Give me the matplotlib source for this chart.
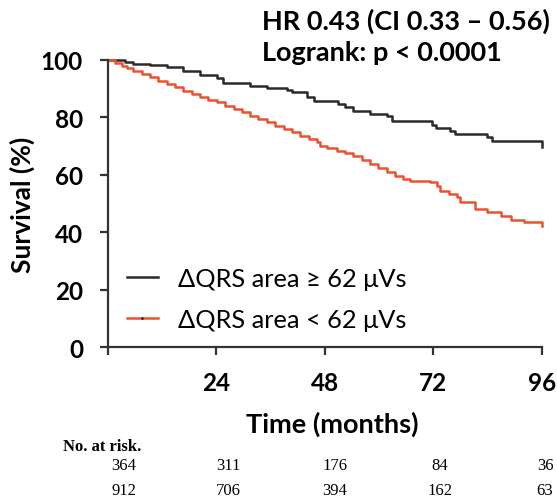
import matplotlib
matplotlib.use('Agg')
import matplotlib.pyplot as plt
from matplotlib.lines import Line2D

# Kaplan-Meier step points (months, survival %)
t_high = [0, 3.8, 5.6, 9.3, 13.0, 16.7, 20.4, 24.1, 25.5, 31.5, 35.2, 39.6, 40.7,
          44.0, 45.5, 51.0, 52.5, 54.3, 58.0, 61.7, 62.8, 71.7, 72.5, 75.8, 76.9,
          83.9, 85.0, 96.0]
s_high = [100, 99.4, 98.6, 98.3, 97.4, 96.3, 94.8, 93.6, 91.9, 90.8, 90.1, 89.6, 88.7,
          87.0, 85.8, 84.5, 83.5, 82.3, 81.2, 80.6, 78.9, 77.3, 76.3, 75.3, 74.2,
          73.3, 71.7, 69.6]

t_low = [0, 1.5, 3.0, 4.3, 5.6, 7.5, 9.3, 11.0, 13.0, 14.8, 16.7, 18.5, 20.4, 22.2,
         24.1, 26.0, 27.8, 29.6, 31.5, 33.3, 35.2, 37.0, 38.9, 40.8, 42.6, 44.5,
         46.3, 47.0, 48.5, 50.7, 52.5, 54.3, 56.2, 58.0, 59.8, 61.7, 63.5, 65.4,
         66.9, 71.3, 72.8, 73.5, 75.5, 77.2, 78.0, 81.3, 83.9, 86.9, 89.1, 92.0, 96.0]
s_low = [100, 99.0, 98.0, 97.2, 96.3, 95.2, 94.0, 92.8, 91.6, 90.5, 89.3, 88.2, 87.0, 86.2,
         85.3, 84.1, 82.9, 81.8, 80.6, 79.4, 78.3, 77.1, 76.0, 74.8, 73.6, 72.4,
         71.3, 70.2, 69.3, 68.4, 67.6, 66.7, 65.2, 63.8, 62.4, 60.9, 59.7, 58.5,
         57.9, 57.4, 56.2, 54.5, 53.4, 52.2, 50.6, 48.1, 46.9, 45.7, 44.4, 43.7, 42.3]

x_ticks = [0, 24, 48, 72, 96]
x_ticklabels = ['', '24', '48', '72', '96']
y_ticks = [0, 20, 40, 60, 80, 100]

risk_high = [364, 311, 176, 84, 36]
risk_low = [912, 706, 394, 162, 63]

label_high = 'ΔQRS area ≥ 62 μVs'
label_low = 'ΔQRS area < 62 μVs'

BLACK = '#2a2a2a'
RED = '#ea5230'

fig = plt.figure(figsize=(5.57, 5.02), dpi=100)
W, H = 557.0, 502.0
ax = fig.add_axes([108 / W, 1 - 348 / H, (541.7 - 108) / W, (348 - 61) / H])

ax.plot(t_high, s_high, drawstyle='steps-post', color=BLACK, lw=1.8, clip_on=False)
ax.plot(t_low, s_low, drawstyle='steps-post', color=RED, lw=1.8, clip_on=False)

ax.set_xlim(0, 96)
ax.set_ylim(0, 100)
for side in ['top', 'right']:
    ax.spines[side].set_visible(False)
for side in ['left', 'bottom']:
    ax.spines[side].set_linewidth(1.6)
    ax.spines[side].set_color('#333333')

ax.set_xticks(x_ticks)
ax.set_xticklabels(x_ticklabels)
ax.set_yticks(y_ticks)
ax.tick_params(axis='both', direction='out', length=6, width=1.6, color='#333333')
ax.tick_params(axis='y', pad=12)
ax.tick_params(axis='x', pad=11)
for lab in ax.get_xticklabels() + ax.get_yticklabels():
    lab.set_fontfamily('Lato')
    lab.set_fontweight('bold')
    lab.set_fontsize(17.5)

ax.set_ylabel('Survival (%)', fontfamily='Lato', fontweight='bold', fontsize=19, labelpad=4)

handles = [Line2D([], [], color=BLACK, lw=1.8),
           Line2D([], [], color=RED, lw=1.8, marker='.', markersize=2,
                  markerfacecolor='#333333', markeredgecolor='#333333')]
ax.legend(handles, [label_high, label_low], loc='center left',
          bbox_to_anchor=(127 / W, 1 - 300 / H), bbox_transform=fig.transFigure,
          frameon=False, borderpad=0, borderaxespad=0, handlelength=1.2,
          handletextpad=0.8, labelspacing=0.7,
          prop={'family': 'Lato', 'size': 18.3})

fig.text(262 / W, 1 - 30 / H, 'HR 0.43 (CI 0.33 – 0.56)', fontfamily='Lato',
         fontweight='bold', fontsize=19.5, va='baseline', ha='left')
fig.text(262 / W, 1 - 61 / H, 'Logrank: p < 0.0001', fontfamily='Lato',
         fontweight='bold', fontsize=19.5, va='baseline', ha='left')

fig.text(332 / W, 1 - 433 / H, 'Time (months)', fontfamily='Lato', fontweight='bold',
         fontsize=19.5, va='baseline', ha='center')

# number at risk table
fig.text(63 / W, 1 - 447 / H, 'No. at risk.', fontfamily='Liberation Serif',
         fontweight='bold', fontsize=12, va='center', ha='left')
risk_x = [124, 228, 335, 440, 545]
for x, a, b in zip(risk_x, risk_high, risk_low):
    fig.text(x / W, 1 - 466 / H, str(a), fontfamily='Liberation Serif', fontsize=12,
             va='center', ha='center')
    fig.text(x / W, 1 - 491 / H, str(b), fontfamily='Liberation Serif', fontsize=12,
             va='center', ha='center')

fig.savefig('out.png', dpi=100)
